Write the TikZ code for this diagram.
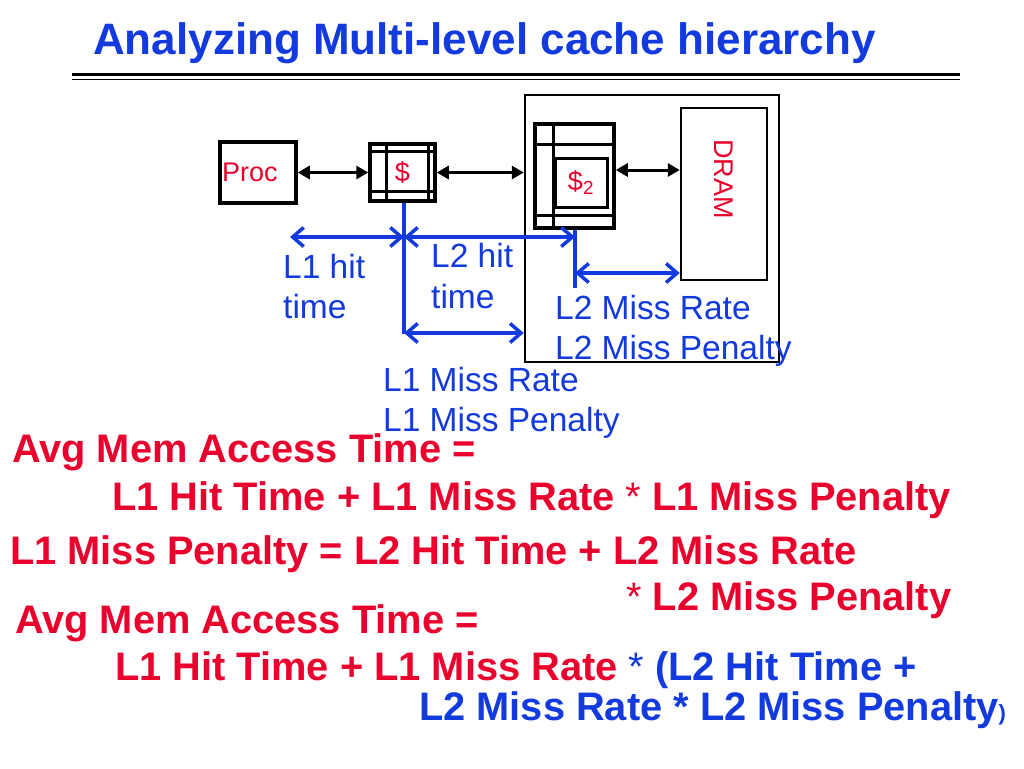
\documentclass[tikz,border=0pt]{standalone}
\usepackage{fontspec}
\setmainfont{Liberation Sans}
\usetikzlibrary{arrows.meta,positioning}
\definecolor{slidered}{RGB}{234,0,44}
\definecolor{slideblue}{RGB}{18,58,222}

\begin{document}
\begin{tikzpicture}[x=1pt,y=-1pt,
  box/.style={draw,line width=2.5pt,inner sep=0pt},
  cache/.style={draw,line width=3.5pt,inner sep=0pt,text=slidered,font=\fontsize{27}{30}\selectfont},
  bus/.style={line width=3pt,{Triangle[length=12pt,width=13pt]}-{Triangle[length=12pt,width=13pt]}},
  span/.style={slideblue,line width=3.5pt,{Straight Barb[length=11pt,width=19pt]}-{Straight Barb[length=11pt,width=19pt]}},
  tick/.style={slideblue,line width=3.5pt},
  lbl/.style={text=slideblue,font=\fontsize{33.5}{40}\selectfont,inner sep=0pt,anchor=base west},
  eq/.style={text=slidered,font=\fontsize{39.8}{46}\selectfont\bfseries,inner sep=0pt,anchor=base west}]

  \useasboundingbox (0,0) rectangle (1024,768);

  % title
  \node[text=slideblue,font=\fontsize{44}{50}\selectfont\bfseries,inner sep=0pt,anchor=base west] (title) at (93,55) {Analyzing Multi-level cache hierarchy};
  \draw[line width=3.5pt] (72,74.5) -- (960,74.5);
  \draw[line width=1.5pt] (72,79.5) -- (960,79.5);

  % processor, caches, memory
  \node[box,line width=3.5pt,minimum width=76pt,minimum height=61pt,text width=72pt,inner xsep=2pt,align=left,text=slidered,font=\fontsize{27}{30}\selectfont] (proc) at (258,172.5) {Proc};
  \node[cache,minimum width=65pt,minimum height=57pt] (l1) at (402.5,172.5) {\$};
  \draw[line width=3pt] (386,144) -- (386,201) (428,144) -- (428,201)
    (370,151) -- (435,151) (370,191) -- (435,191);
  \node[box,minimum width=254pt,minimum height=267pt] (mem) at (652,228.5) {};
  \node[cache,minimum width=79pt,minimum height=104pt] (l2) at (574.5,176) {};
  \draw[line width=3pt] (553,124) -- (553,228) (535,144) -- (614,144) (535,215) -- (614,215);
  \node[cache,line width=3pt,minimum width=52pt,minimum height=49pt] (l2in) at (581,182.5) {\$\textsubscript{2}};
  \node[box,minimum width=86pt,minimum height=172pt] (dram) at (724,194) {};
  \node[text=slidered,font=\fontsize{27}{30}\selectfont,rotate=-90,inner sep=0pt] (dramlbl) at (724,179) {DRAM};

  \draw[bus] (proc.east) -- (l1.west);
  \draw[bus] (l1.east) -- (l1.east -| mem.west);
  \draw[bus] ([yshift=6pt]l2.east) -- ([yshift=6pt]l2.east -| dram.west);

  % timing spans
  \coordinate (hit1) at (290,237);
  \coordinate (drop1) at (404,334);
  \coordinate (drop2) at (575,288);
  \coordinate (miss2) at (575,273);
  \coordinate (miss1) at (404,333);
  \draw[tick] (drop1 |- l1.south) -- (drop1);
  \draw[tick] (drop2 |- l2.south) -- (drop2);
  \draw[span] (hit1) -- (hit1 -| drop1);
  \draw[span] (hit1 -| drop1) -- (hit1 -| drop2);
  \draw[span] (miss2) -- (miss2 -| dram.west);
  \draw[span] (miss1) -- (miss1 -| mem.west);

  \node[lbl] (hit1a) at (283,278) {L1 hit};
  \node[lbl] (hit1b) at ([yshift=-40pt]hit1a.base west) {time};
  \node[lbl] (hit2a) at (431,267) {L2 hit};
  \node[lbl] (hit2b) at ([yshift=-41pt]hit2a.base west) {time};
  \node[lbl] (rate2) at (555,319) {L2 Miss Rate};
  \node[lbl] (pen2) at ([yshift=-40pt]rate2.base west) {L2 Miss Penalty};
  \node[lbl] (rate1) at (383,391) {L1 Miss Rate};
  \node[lbl] (pen1) at ([yshift=-40pt]rate1.base west) {L1 Miss Penalty};

  % formulas
  \node[eq] (avg1) at (12,462) {Avg Mem Access Time =};
  \node[eq] (sum1) at (112,510) {L1 Hit Time + L1 Miss Rate {\mdseries*} L1 Miss Penalty};
  \node[eq] (miss1a) at (10,564) {L1 Miss Penalty = L2 Hit Time + L2 Miss Rate};
  \node[eq] (miss1b) at (626,610) {{\mdseries*} L2 Miss Penalty};
  \node[eq] (avg2) at (15,633) {Avg Mem Access Time =};
  \node[eq] (sum2) at (115,680) {L1 Hit Time + L1 Miss Rate \textcolor{slideblue}{{\mdseries*} (L2 Hit Time +}};
  \node[eq,text=slideblue] (sum3) at (419,720) {L2 Miss Rate * L2 Miss Penalty{\fontsize{22}{22}\selectfont)}};
\end{tikzpicture}
\end{document}
